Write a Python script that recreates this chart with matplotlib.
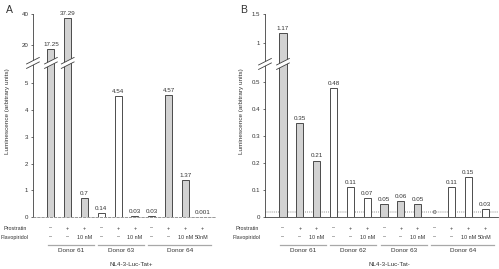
import numpy as np
import matplotlib.pyplot as plt
from matplotlib.transforms import blended_transform_factory
from matplotlib.patches import Polygon

plt.rcParams['font.family'] = ['Liberation Sans', 'DejaVu Sans']

# ---- data ----
a_values = [17.25, 37.29, 0.7, 0.14, 4.54, 0.03, 0.03, 4.57, 1.37, 0.001]
a_labels = ["17.25", "37.29", "0.7", "0.14", "4.54", "0.03", "0.03", "4.57", "1.37", "0.001"]
a_fill = ["g", "g", "g", "w", "w", "w", "g", "g", "g", "g"]
a_prost = ["\u2013", "+", "+", "\u2013", "+", "+", "\u2013", "+", "+", "+"]
a_flavo = ["\u2013", "\u2013", "10 nM", "\u2013", "\u2013", "10 nM", "\u2013", "\u2013", "10 nM", "50nM"]
a_donors = ["Donor 61", "Donor 63", "Donor 64"]
a_groups = [(0, 2), (3, 5), (6, 9)]
a_yticks = [0, 1, 2, 3, 4, 5, 20, 40]
a_yticklabels = ["0", "1", "2", "3", "4", "5", "20", "40"]

b_values = [1.17, 0.35, 0.21, 0.48, 0.11, 0.07, 0.05, 0.06, 0.05, 0.0, 0.11, 0.15, 0.03]
b_labels = ["1.17", "0.35", "0.21", "0.48", "0.11", "0.07", "0.05", "0.06", "0.05", "0", "0.11", "0.15", "0.03"]
b_fill = ["g", "g", "g", "w", "w", "w", "g", "g", "g", "w", "w", "w", "w"]
b_prost = ["\u2013", "+", "+"] * 3 + ["\u2013", "+", "+", "+"]
b_flavo = ["\u2013", "\u2013", "10 nM"] * 3 + ["\u2013", "\u2013", "10 nM", "50nM"]
b_donors = ["Donor 61", "Donor 62", "Donor 63", "Donor 64"]
b_groups = [(0, 2), (3, 5), (6, 8), (9, 12)]
b_yticks = [0, 0.1, 0.2, 0.3, 0.4, 0.5, 1, 1.5]
b_yticklabels = ["0", "0.1", "0.2", "0.3", "0.4", "0.5", "1", "1.5"]

GREY = "#d2d2d2"
EDGE = "#404040"
TXT = "#333333"
LINE = "#a8a8a8"


def make_scale(s, k):
    def fwd(v):
        v = np.asarray(v, dtype=float)
        return np.where(v <= s, v, s + (v - s) * k)

    def inv(u):
        u = np.asarray(u, dtype=float)
        return np.where(u <= s, u, s + (u - s) / k)
    return fwd, inv


def draw_break(ax, xs, yb):
    tr = blended_transform_factory(ax.transData, ax.transAxes)
    w, d, g = 0.38, 0.016, 0.022
    for cx in xs:
        poly = Polygon([(cx - w, yb - d - g / 2), (cx + w, yb + d - g / 2),
                        (cx + w, yb + d + g / 2), (cx - w, yb - d + g / 2)],
                       closed=True, facecolor="white", edgecolor="none",
                       transform=tr, clip_on=False, zorder=5)
        ax.add_patch(poly)
        for off in (-g / 2, g / 2):
            ax.plot([cx - w, cx + w], [yb - d + off, yb + d + off], color=EDGE,
                    lw=0.6, transform=tr, clip_on=False, zorder=6)


def panel(ax, values, labels, fill, prost, flavo, donors, groups, yticks,
          yticklabels, ymax, scale, brk, title):
    x = np.arange(len(values))
    ax.set_yscale("function", functions=make_scale(*scale))
    colors = [GREY if f == "g" else "white" for f in fill]
    ax.bar(x, values, width=0.42, color=colors, edgecolor=EDGE, linewidth=0.65, zorder=3)
    ax.set_xlim(-1.07, len(values) - 0.23)
    ax.set_ylim(0, ymax)
    ax.set_yticks(yticks)
    ax.set_yticklabels(yticklabels)
    ax.yaxis.set_minor_locator(plt.NullLocator())
    ax.set_xticks([])
    ax.tick_params(axis="y", labelsize=4.4, length=1.8, width=0.5, pad=1.5,
                   colors=TXT)
    for sp in ("top", "right"):
        ax.spines[sp].set_visible(False)
    ax.spines["left"].set_linewidth(0.6)
    ax.spines["left"].set_color(EDGE)
    ax.spines["bottom"].set_linewidth(0.6)
    ax.spines["bottom"].set_color(EDGE)

    for xi, v, lab in zip(x, values, labels):
        ax.annotate(lab, (xi, v), xytext=(0, 1.5), textcoords="offset points",
                    ha="center", va="bottom", fontsize=4.5, color=TXT, zorder=4)

    tr = blended_transform_factory(ax.transData, ax.transAxes)
    ax.text(-2.15, -0.054, "Prostratin", transform=tr, ha="center", va="center",
            fontsize=3.9, color=TXT)
    ax.text(-2.15, -0.099, "Flavopiridol", transform=tr, ha="center", va="center",
            fontsize=3.9, color=TXT)
    for xi, p, f in zip(x, prost, flavo):
        ax.text(xi, -0.054, p, transform=tr, ha="center", va="center",
                fontsize=3.9, color=TXT)
        ax.text(xi, -0.099, f, transform=tr, ha="center", va="center",
                fontsize=3.9, color=TXT)
    for name, (g0, g1) in zip(donors, groups):
        x0, x1 = g0 - 0.2, g1 + 0.55
        ax.plot([x0, x1], [-0.135, -0.135], color=LINE, lw=0.9,
                transform=tr, clip_on=False)
        ax.text((x0 + x1) / 2, -0.165, name, transform=tr, ha="center",
                va="center", fontsize=4.6, color=TXT)
    ax.text((len(values) - 1) / 2 + 0.3, -0.232, title, transform=tr,
            ha="center", va="center", fontsize=4.5, color=TXT)
    draw_break(ax, [ax.get_xlim()[0], 0, 1] if brk[1] else [ax.get_xlim()[0], 0], brk[0])


fig = plt.figure(figsize=(4.99, 2.69), dpi=100)
ax_a = fig.add_axes([0.066, 0.193, 0.365, 0.755])
ax_b = fig.add_axes([0.531, 0.193, 0.467, 0.755])

panel(ax_a, a_values, a_labels, a_fill, a_prost, a_flavo, a_donors, a_groups,
      a_yticks, a_yticklabels, 40, (5.6, 0.058), (0.759, True), "NL4-3-Luc-Tat+")
panel(ax_b, b_values, b_labels, b_fill, b_prost, b_flavo, b_donors, b_groups,
      b_yticks, b_yticklabels, 1.5, (0.55, 0.215), (0.754, False), "NL4-3-Luc-Tat-")

ax_a.spines["bottom"].set_linestyle((0, (3, 2)))
ax_a.spines["bottom"].set_color("#888888")
for yy in (0.018, 0.024):
    ax_b.axhline(yy, color="#b0b0b0", lw=0.6, ls=(0, (1, 1.5)), zorder=2)

fig.text(0.016, 0.587, "Luminescence (arbitrary units)", rotation=90,
         ha="center", va="center", fontsize=4.6, color=TXT)
fig.text(0.483, 0.587, "Luminescence (arbitrary units)", rotation=90,
         ha="center", va="center", fontsize=4.6, color=TXT)
fig.text(0.012, 0.962, "A", fontsize=7.5, color=TXT, ha="left", va="center")
fig.text(0.481, 0.962, "B", fontsize=7.5, color=TXT, ha="left", va="center")

fig.savefig("out.png", dpi=100)
